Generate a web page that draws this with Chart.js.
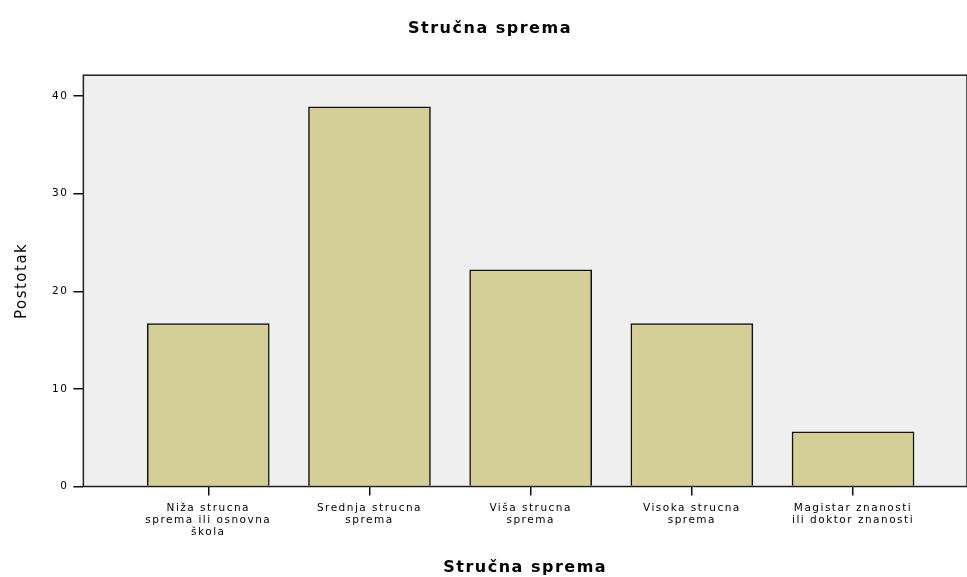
<!DOCTYPE html>
<html>
<head>
<meta charset="utf-8">
<script src="https://cdn.jsdelivr.net/npm/chart.js@4/dist/chart.umd.min.js"></script>
<style>
  html, body { margin: 0; padding: 0; background: #fff; }
  #wrap { width: 967px; height: 577px; }
</style>
</head>
<body>
<div id="wrap"><canvas id="c" width="967" height="577"></canvas></div>
<script>
// podaci
const categories = [
  ["Niža strucna", "sprema ili osnovna", "škola"],
  ["Srednja strucna", "sprema"],
  ["Viša strucna", "sprema"],
  ["Visoka strucna", "sprema"],
  ["Magistar znanosti", "ili doktor znanosti"]
];
const postotak = [16.7, 38.9, 22.2, 16.7, 5.6];
const yTicks = [0, 10, 20, 30, 40];

const font = "'DejaVu Sans', 'Liberation Sans', Arial, sans-serif";

// siri razmak slova (original je rastegnut vodoravno)
const spacing = {
  id: "spacing",
  beforeUpdate(chart) { chart.ctx.letterSpacing = "1.5px"; },
  beforeDraw(chart) { chart.ctx.letterSpacing = "1.5px"; }
};

// pozadina i okvir podrucja grafa
const plotBox = {
  id: "plotBox",
  beforeDatasetsDraw(chart) {
    const a = chart.chartArea, ctx = chart.ctx;
    ctx.save();
    ctx.fillStyle = "#efefef";
    ctx.fillRect(a.left, a.top, a.right - a.left, a.bottom - a.top);
    ctx.restore();
  },
  afterDatasetsDraw(chart) {
    const a = chart.chartArea, ctx = chart.ctx;
    ctx.save();
    ctx.strokeStyle = "#222";
    ctx.lineWidth = 1.5;
    ctx.strokeRect(a.left, a.top, a.right - a.left, a.bottom - a.top);
    ctx.restore();
  }
};

new Chart(document.getElementById("c"), {
  type: "bar",
  data: {
    datasets: [{
      data: postotak.map((v, i) => ({ x: i, y: v })),
      backgroundColor: "#d3cf97",
      borderColor: "#111",
      borderWidth: 1.5,
      barThickness: 122
    }]
  },
  options: {
    responsive: false,
    animation: false,
    layout: { padding: { top: 0, right: 0, left: 13, bottom: 0 } },
    plugins: {
      legend: { display: false },
      tooltip: { enabled: false },
      title: {
        display: true,
        text: "Stručna sprema",
        color: "#000",
        font: { family: font, size: 16, weight: "bold" },
        padding: { top: 19, bottom: 37 }
      }
    },
    scales: {
      x: {
        type: "linear",
        offset: false,
        min: -0.775,
        max: 4.707,
        afterBuildTicks: (s) => { s.ticks = categories.map((_, i) => ({ value: i })); },
        grid: { offset: false, drawOnChartArea: false, drawTicks: true, tickLength: 9, color: "#111", lineWidth: 1.5 },
        border: { display: false },
        ticks: {
          color: "#000",
          autoSkip: false,
          maxRotation: 0,
          padding: 7,
          font: { family: font, size: 10.5, lineHeight: 1.12 },
          callback: (v) => categories[v]
        },
        title: {
          display: true,
          text: "Stručna sprema",
          color: "#000",
          font: { family: font, size: 16, weight: "bold" },
          padding: { top: 13, bottom: 0 }
        }
      },
      y: {
        min: 0,
        max: 42.15,
        afterBuildTicks: (s) => { s.ticks = yTicks.map((v) => ({ value: v })); },
        grid: { drawOnChartArea: false, drawTicks: true, tickLength: 10, color: "#111", lineWidth: 1.5 },
        border: { display: false },
        ticks: {
          color: "#000",
          padding: 5,
          font: { family: font, size: 10.5 }
        },
        title: {
          display: true,
          text: "Postotak",
          color: "#000",
          font: { family: font, size: 15 },
          padding: { top: 0, bottom: 16 }
        }
      }
    }
  },
  plugins: [spacing, plotBox]
});
</script>
</body>
</html>
